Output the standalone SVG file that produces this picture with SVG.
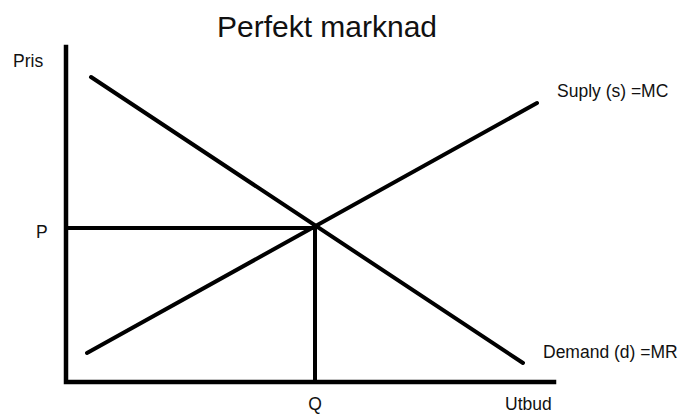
<svg xmlns="http://www.w3.org/2000/svg" width="686" height="414" viewBox="0 0 686 414">
<style>
text{font-family:"Liberation Sans","Noto Sans",sans-serif;fill:#111}
.l{stroke:#000;stroke-width:4;fill:none;stroke-linecap:round}
.a{stroke:#000;stroke-width:4.5;fill:none;stroke-linecap:square}
.s{font-size:17.5px}
</style>
<rect width="686" height="414" fill="#fff"/>
<text x="327" y="37" font-size="30" text-anchor="middle">Perfekt marknad</text>
<g id="axes">
<path class="a" d="M66 47 V382 H554"/>
</g>
<g id="connectors">
<path class="l" d="M66 228 H315 V382" style="stroke-linecap:butt"/>
<path class="l" d="M91 77 L523 363"/>
<path class="l" d="M87 353 L537 103"/>
</g>
<g id="labels">
<text class="s" x="13" y="67">Pris</text>
<text class="s" x="36" y="238">P</text>
<text class="s" x="315" y="410" text-anchor="middle">Q</text>
<text class="s" x="505" y="410">Utbud</text>
<text class="s" x="557" y="97">Suply (s) =MC</text>
<text class="s" x="543" y="358">Demand (d) =MR</text>
</g>
</svg>
